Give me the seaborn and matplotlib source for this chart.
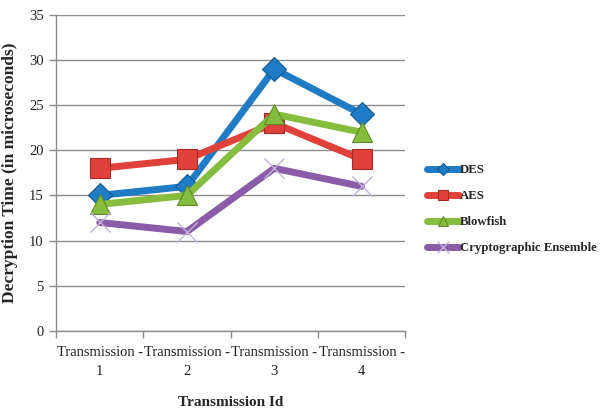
import matplotlib
matplotlib.use("Agg")
import matplotlib.pyplot as plt
import seaborn as sns
import pandas as pd
from matplotlib.ticker import FixedLocator

# Decryption times per transmission (microseconds)
transmissions = ["Transmission -\n1", "Transmission -\n2", "Transmission -\n3", "Transmission -\n4"]
des = [15, 16, 29, 24]
aes = [18, 19, 23, 19]
blowfish = [14, 15, 24, 22]
ensemble = [12, 11, 18, 16]

series_names = ["DES", "AES", "Blowfish", "Cryptographic Ensemble"]
series_values = [des, aes, blowfish, ensemble]
colors = ["#1f7bc4", "#e0413b", "#86bd3f", "#8a5ba6"]
edge_colors = ["#155a91", "#a82a26", "#5e8a2a", "#c3b2dc"]
markers = ["D", "s", "^", "x"]
marker_sizes = [12, 14, 14, 15]
edge_widths = [0.8, 0.8, 0.8, 1.0]

sns.set_theme(style="white")
plt.rcParams["font.family"] = ["Liberation Serif", "DejaVu Serif"]

fig = plt.figure(figsize=(6.03, 4.12), dpi=100)
ax = fig.add_axes([0.093, 0.197, 0.579, 0.767])

pos = list(range(len(transmissions)))
for name, vals, c, ec, m, ms, ew in zip(series_names, series_values, colors,
                                         edge_colors, markers, marker_sizes, edge_widths):
    df = pd.DataFrame({"pos": pos, "value": vals})
    sns.lineplot(data=df, x="pos", y="value", ax=ax, color=c, linewidth=5,
                 marker=m, markersize=ms, markerfacecolor=c, markeredgecolor=ec,
                 markeredgewidth=ew, label=name, solid_capstyle="round",
                 solid_joinstyle="round")

ax.set_ylim(0, 35)
ax.set_yticks(range(0, 36, 5))
ax.set_xlim(-0.5, len(transmissions) - 0.5)
ax.set_xticks(pos)
ax.set_xticklabels(transmissions, fontsize=10.5, linespacing=1.55)
ax.xaxis.set_minor_locator(FixedLocator([p - 0.5 for p in pos] + [pos[-1] + 0.5]))
ax.tick_params(axis="x", which="major", length=0, pad=11, labelsize=10.5, colors="#222222")
ax.tick_params(axis="x", which="minor", length=5, width=1, color="#8c8c8c", bottom=True)
ax.tick_params(axis="y", which="major", length=5, width=1, color="#8c8c8c", left=True,
               labelsize=10.5, labelcolor="#222222", pad=4)

ax.grid(axis="y", color="#8c8c8c", linewidth=1)
ax.set_axisbelow(True)
for side in ["top", "right"]:
    ax.spines[side].set_visible(False)
for side in ["left", "bottom"]:
    ax.spines[side].set_color("#8c8c8c")
    ax.spines[side].set_linewidth(1)

ax.set_xlabel("Transmission Id", fontsize=11, fontweight="bold", labelpad=13)
ax.set_ylabel("Decryption Time (in microseconds)", fontsize=12.5, fontweight="bold", labelpad=8)

leg = ax.legend(loc="center left", bbox_to_anchor=(1.04, 0.385), frameon=False,
                handlelength=2.5, handletextpad=0.1, labelspacing=1.1,
                markerscale=0.55, borderaxespad=0.2,
                prop={"weight": "bold", "size": 9.2})
for line in leg.get_lines():
    line.set_linewidth(5)

fig.savefig("out.png", dpi=100)
